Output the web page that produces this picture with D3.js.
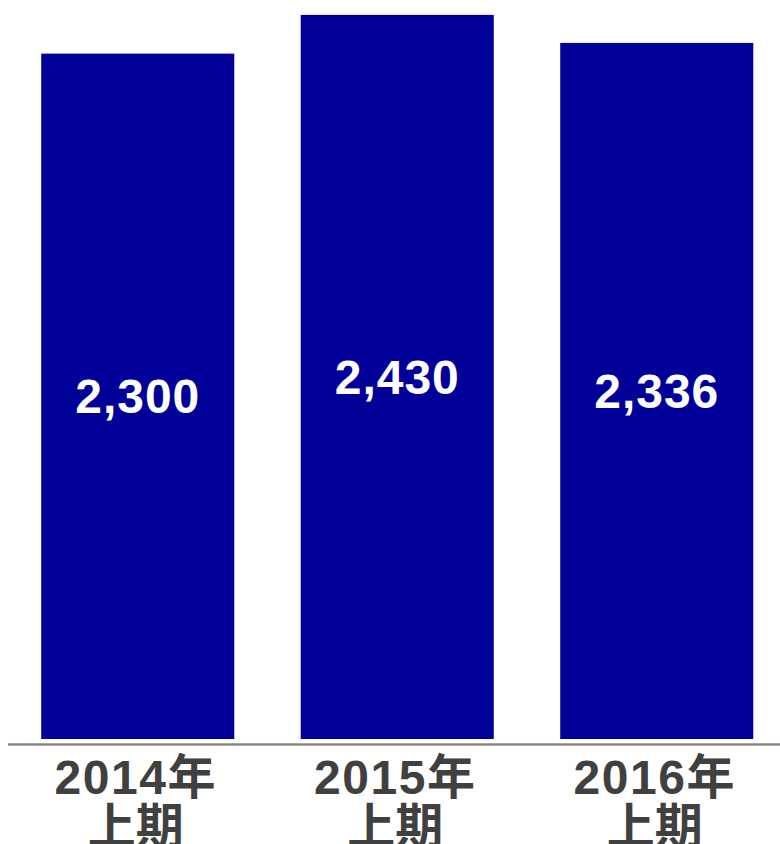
<!DOCTYPE html>
<html>
<head>
<meta charset="utf-8">
<script src="https://cdn.jsdelivr.net/npm/d3@7/dist/d3.min.js"></script>
<style>
  html, body { margin: 0; padding: 0; background: #ffffff; overflow: hidden; }
  svg { display: block; }
</style>
</head>
<body>
<svg id="chart" width="780" height="844"></svg>
<script>
// Half-year totals
const periods = ["2014年上期", "2015年上期", "2016年上期"];
const yearLabels = ["2014年", "2015年", "2016年"];
const halfLabels = ["上期", "上期", "上期"];
const values = [2300, 2430, 2336];

const width = 780, height = 844;
const svg = d3.select("#chart");

const x = d3.scaleBand()
  .domain(periods)
  .range([8, 786.5])
  .paddingInner(0.256)
  .paddingOuter(0.128);

const y = d3.scaleLinear()
  .domain([0, 2480])
  .range([739, 0]);

// bars
svg.append("g").selectAll("rect")
  .data(values)
  .join("rect")
  .attr("x", (d, i) => x(periods[i]))
  .attr("y", d => y(d))
  .attr("width", x.bandwidth())
  .attr("height", d => y(0) - y(d))
  .attr("fill", "#000099");

// value labels centred inside the bars
svg.append("g").selectAll("text")
  .data(values)
  .join("text")
  .attr("x", (d, i) => x(periods[i]) + x.bandwidth() / 2)
  .attr("y", d => (y(d) + y(0)) / 2 + 17)
  .attr("text-anchor", "middle")
  .attr("fill", "#ffffff")
  .style("font-family", "'Liberation Sans', Arial, sans-serif")
  .style("font-weight", "bold")
  .style("font-size", "48px")
  .style("letter-spacing", "1px")
  .text(d => d3.format(",")(d));

// baseline
svg.append("line")
  .attr("x1", 8)
  .attr("x2", width)
  .attr("y1", 744.5)
  .attr("y2", 744.5)
  .attr("stroke", "#888888")
  .attr("stroke-width", 2.5);

// category labels (two lines)
const cat = svg.append("g").selectAll("text")
  .data(periods)
  .join("text")
  .attr("text-anchor", "middle")
  .attr("fill", "#404040")
  .style("font-family", "'Liberation Sans', 'Noto Sans CJK JP', sans-serif")
  .style("font-weight", "bold")
  .style("font-size", "48px");

cat.append("tspan")
  .attr("x", d => x(d) + x.bandwidth() / 2 - 2)
  .attr("y", 794)
  .style("letter-spacing", "1.5px")
  .text((d, i) => yearLabels[i]);

cat.append("tspan")
  .attr("x", d => x(d) + x.bandwidth() / 2 - 2)
  .attr("y", 843)
  .text((d, i) => halfLabels[i]);
</script>
</body>
</html>
